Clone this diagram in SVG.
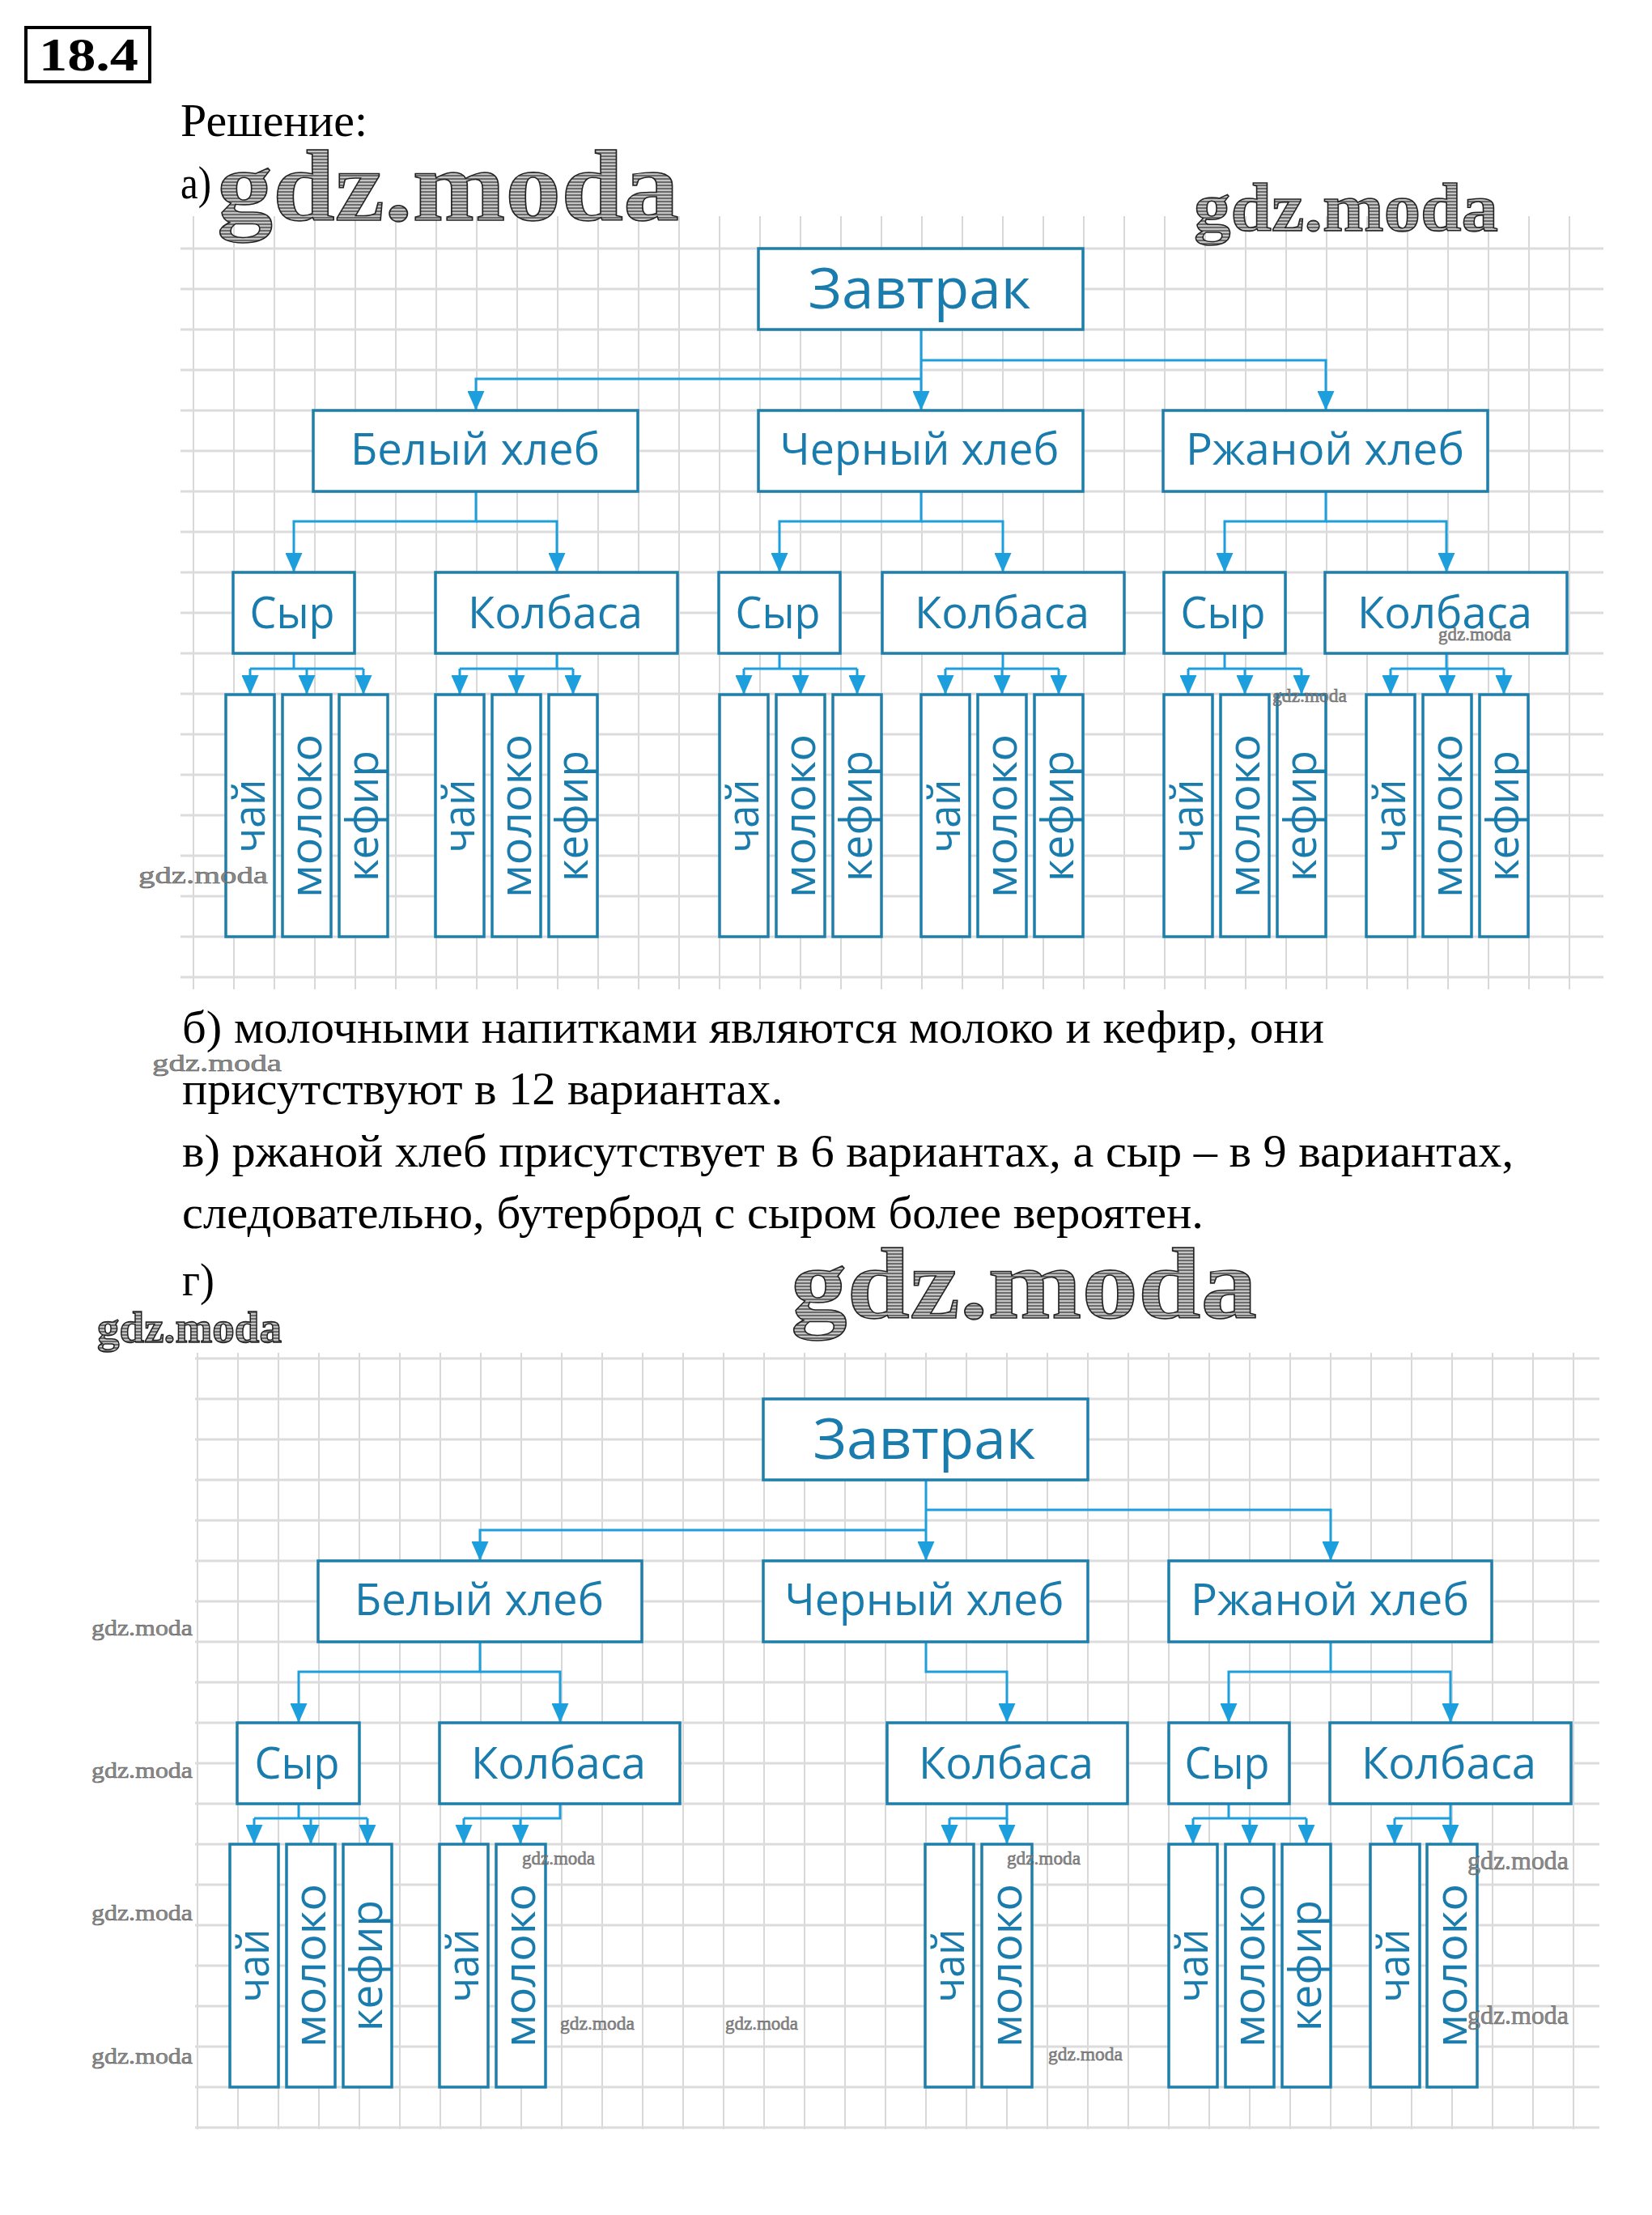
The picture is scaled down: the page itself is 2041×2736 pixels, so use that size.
<svg xmlns="http://www.w3.org/2000/svg" width="2041" height="2736" viewBox="0 0 2041 2736">
<style>
.gh{fill:none;stroke:#dcdcdc;stroke-width:3}
.gv{fill:none;stroke:#d8d8d8;stroke-width:2}
.box{fill:#fff;stroke:#1f7fab;stroke-width:3.5}
.t1{font-family:"Open Sans","Noto Sans",sans-serif;font-size:70px;fill:#1a7cad;text-anchor:middle}
.t2{font-family:"Open Sans","Noto Sans",sans-serif;font-size:55px;fill:#1a7cad;text-anchor:middle}
.tl{font-family:"Open Sans","Noto Sans",sans-serif;font-size:54px;fill:#1a7cad;text-anchor:middle}
.conn{fill:none;stroke:#1c9fdc;stroke-width:3}
.arr{fill:none;stroke:#1c9fdc;stroke-width:3;marker-end:url(#ah)}
.body{font-family:"Liberation Serif","Times New Roman",serif;font-size:57px;fill:#000}
.wm{font-family:"Liberation Serif",serif;font-weight:bold;fill:url(#hatch);stroke:#222;stroke-width:1.5}
.wms{font-family:"Liberation Serif",serif;fill:#8c8c8c;stroke:#555;stroke-width:0.5}
</style>
<defs>
<marker id="ah" viewBox="0 0 24 21" refX="24" refY="10.5" markerWidth="24" markerHeight="21" markerUnits="userSpaceOnUse" orient="auto">
<path d="M0,0 L24,10.5 L0,21 z" fill="#1c9fdc"/>
</marker>
<pattern id="hatch" width="4" height="4" patternUnits="userSpaceOnUse">
<rect width="4" height="4" fill="#c4c4c4"/>
<line x1="0" y1="1" x2="4" y2="1" stroke="#3a3a3a" stroke-width="1.3"/>
</pattern>
</defs>
<rect width="2041" height="2736" fill="#fff"/>

<!-- header texts -->
<g id="header">
<rect x="32" y="34" width="153" height="67" fill="none" stroke="#000" stroke-width="4"/>
<text x="48" y="87" font-family="Liberation Serif,serif" font-weight="bold" font-size="58" textLength="123" lengthAdjust="spacingAndGlyphs">18.4</text>
<text class="body" x="223" y="168" textLength="231" lengthAdjust="spacingAndGlyphs">Решение:</text>
<text class="body" x="223" y="245" textLength="38" lengthAdjust="spacingAndGlyphs">а)</text>
</g>

<!-- grid a -->
<g id="grid-a">
<path class="gv" d="M239,267V1222M289,267V1222M339,267V1222M389,267V1222M439,267V1222M489,267V1222M539,267V1222M589,267V1222M639,267V1222M689,267V1222M739,267V1222M789,267V1222M839,267V1222M889,267V1222M939,267V1222M989,267V1222M1039,267V1222M1089,267V1222M1139,267V1222M1189,267V1222M1239,267V1222M1289,267V1222M1339,267V1222M1389,267V1222M1439,267V1222M1489,267V1222M1539,267V1222M1589,267V1222M1639,267V1222M1689,267V1222M1739,267V1222M1789,267V1222M1839,267V1222M1889,267V1222M1939,267V1222"/>
<path class="gh" d="M223,307H1981M223,357H1981M223,407H1981M223,457H1981M223,507H1981M223,557H1981M223,607H1981M223,657H1981M223,707H1981M223,757H1981M223,807H1981M223,857H1981M223,907H1981M223,957H1981M223,1007H1981M223,1057H1981M223,1107H1981M223,1157H1981M223,1207H1981"/>
</g>

<!-- grid g -->
<g id="grid-g">
<path class="gv" d="M244,1671V2630M294,1671V2630M344,1671V2630M394,1671V2630M444,1671V2630M494,1671V2630M544,1671V2630M594,1671V2630M644,1671V2630M694,1671V2630M744,1671V2630M794,1671V2630M844,1671V2630M894,1671V2630M944,1671V2630M994,1671V2630M1044,1671V2630M1094,1671V2630M1144,1671V2630M1194,1671V2630M1244,1671V2630M1294,1671V2630M1344,1671V2630M1394,1671V2630M1444,1671V2630M1494,1671V2630M1544,1671V2630M1594,1671V2630M1644,1671V2630M1694,1671V2630M1744,1671V2630M1794,1671V2630M1844,1671V2630M1894,1671V2630M1944,1671V2630"/>
<path class="gh" d="M241,1678H1976M241,1728H1976M241,1778H1976M241,1828H1976M241,1878H1976M241,1928H1976M241,1978H1976M241,2028H1976M241,2078H1976M241,2128H1976M241,2178H1976M241,2228H1976M241,2278H1976M241,2328H1976M241,2378H1976M241,2428H1976M241,2478H1976M241,2528H1976M241,2578H1976M241,2628H1976"/>
</g>

<!-- connectors -->
<g id="connectors">
<!-- part a -->
<path class="arr" d="M1138,407V507"/>
<path class="arr" d="M1138,445H1638V507"/>
<path class="arr" d="M1138,468H588V507"/>
<path class="arr" d="M588,607V644H363V707"/>
<path class="arr" d="M588,644H688V707"/>
<path class="arr" d="M1138,607V644H963V707"/>
<path class="arr" d="M1138,644H1239V707"/>
<path class="arr" d="M1638,607V644H1513V707"/>
<path class="arr" d="M1638,644H1787V707"/>
<path class="conn" d="M363,807V826M309,826H449"/>
<path class="arr" d="M309,826V858"/><path class="arr" d="M379,826V858"/><path class="arr" d="M449,826V858"/>
<path class="conn" d="M688,807V826M568,826H708"/>
<path class="arr" d="M568,826V858"/><path class="arr" d="M638,826V858"/><path class="arr" d="M708,826V858"/>
<path class="conn" d="M963,807V826M919,826H1059"/>
<path class="arr" d="M919,826V858"/><path class="arr" d="M989,826V858"/><path class="arr" d="M1059,826V858"/>
<path class="conn" d="M1239,807V826M1168,826H1308"/>
<path class="arr" d="M1168,826V858"/><path class="arr" d="M1238,826V858"/><path class="arr" d="M1308,826V858"/>
<path class="conn" d="M1513,807V826M1468,826H1608"/>
<path class="arr" d="M1468,826V858"/><path class="arr" d="M1538,826V858"/><path class="arr" d="M1608,826V858"/>
<path class="conn" d="M1787,807V826M1718,826H1858"/>
<path class="arr" d="M1718,826V858"/><path class="arr" d="M1788,826V858"/><path class="arr" d="M1858,826V858"/>
<!-- part g -->
<path class="arr" d="M1144,1828V1928"/>
<path class="arr" d="M1144,1865H1644V1928"/>
<path class="arr" d="M1144,1890H593V1928"/>
<path class="arr" d="M593,2028V2065H369V2128"/>
<path class="arr" d="M593,2065H692V2128"/>
<path class="arr" d="M1144,2028V2065H1244V2128"/>
<path class="arr" d="M1644,2028V2065H1518V2128"/>
<path class="arr" d="M1644,2065H1792V2128"/>
<path class="conn" d="M369,2228V2246M314,2246H454"/>
<path class="arr" d="M314,2246V2278"/><path class="arr" d="M384,2246V2278"/><path class="arr" d="M454,2246V2278"/>
<path class="conn" d="M692,2228V2246H573"/>
<path class="arr" d="M573,2246V2278"/><path class="arr" d="M643,2246V2278"/>
<path class="conn" d="M1244,2228V2246H1173"/>
<path class="arr" d="M1173,2246V2278"/><path class="arr" d="M1244,2246V2278"/>
<path class="conn" d="M1518,2228V2246M1474,2246H1614"/>
<path class="arr" d="M1474,2246V2278"/><path class="arr" d="M1544,2246V2278"/><path class="arr" d="M1614,2246V2278"/>
<path class="conn" d="M1792,2228V2246H1723"/>
<path class="arr" d="M1723,2246V2278"/><path class="arr" d="M1792,2246V2278"/>
</g>

<!-- nodes part a -->
<g id="a-root"><rect class="box" x="937" y="307" width="401" height="100"/><text class="t1" x="1136" y="381" textLength="275" lengthAdjust="spacingAndGlyphs">Завтрак</text></g>
<g id="a-white"><rect class="box" x="387" y="507" width="401" height="100"/><text class="t2" x="587" y="574" textLength="308" lengthAdjust="spacingAndGlyphs">Белый хлеб</text></g>
<g id="a-black"><rect class="box" x="937" y="507" width="401" height="100"/><text class="t2" x="1136" y="574" textLength="345" lengthAdjust="spacingAndGlyphs">Черный хлеб</text></g>
<g id="a-rye"><rect class="box" x="1437" y="507" width="401" height="100"/><text class="t2" x="1637" y="574" textLength="344" lengthAdjust="spacingAndGlyphs">Ржаной хлеб</text></g>
<g id="a-white-cheese"><rect class="box" x="288" y="707" width="150" height="100"/><text class="t2" x="361" y="776" textLength="105" lengthAdjust="spacingAndGlyphs">Сыр</text></g>
<g id="a-white-sausage"><rect class="box" x="538" y="707" width="299" height="100"/><text class="t2" x="686" y="776" textLength="216" lengthAdjust="spacingAndGlyphs">Колбаса</text></g>
<g id="a-black-cheese"><rect class="box" x="888" y="707" width="150" height="100"/><text class="t2" x="961" y="776" textLength="105" lengthAdjust="spacingAndGlyphs">Сыр</text></g>
<g id="a-black-sausage"><rect class="box" x="1090" y="707" width="299" height="100"/><text class="t2" x="1238" y="776" textLength="216" lengthAdjust="spacingAndGlyphs">Колбаса</text></g>
<g id="a-rye-cheese"><rect class="box" x="1438" y="707" width="150" height="100"/><text class="t2" x="1511" y="776" textLength="105" lengthAdjust="spacingAndGlyphs">Сыр</text></g>
<g id="a-rye-sausage"><rect class="box" x="1637" y="707" width="299" height="100"/><text class="t2" x="1785" y="776" textLength="216" lengthAdjust="spacingAndGlyphs">Колбаса</text></g>

<!-- leaves part a -->
<g id="a-l1"><rect class="box" x="279" y="858" width="60" height="299"/><text class="tl" transform="translate(327,1008) rotate(-90)" textLength="91" lengthAdjust="spacingAndGlyphs">чай</text></g>
<g id="a-l2"><rect class="box" x="349" y="858" width="60" height="299"/><text class="tl" transform="translate(397,1008) rotate(-90)" textLength="202" lengthAdjust="spacingAndGlyphs">молоко</text></g>
<g id="a-l3"><rect class="box" x="419" y="858" width="60" height="299"/><text class="tl" transform="translate(467,1008) rotate(-90)" textLength="162" lengthAdjust="spacingAndGlyphs">кефир</text></g>
<g id="a-l4"><rect class="box" x="538" y="858" width="60" height="299"/><text class="tl" transform="translate(586,1008) rotate(-90)" textLength="91" lengthAdjust="spacingAndGlyphs">чай</text></g>
<g id="a-l5"><rect class="box" x="608" y="858" width="60" height="299"/><text class="tl" transform="translate(656,1008) rotate(-90)" textLength="202" lengthAdjust="spacingAndGlyphs">молоко</text></g>
<g id="a-l6"><rect class="box" x="678" y="858" width="60" height="299"/><text class="tl" transform="translate(726,1008) rotate(-90)" textLength="162" lengthAdjust="spacingAndGlyphs">кефир</text></g>
<g id="a-l7"><rect class="box" x="889" y="858" width="60" height="299"/><text class="tl" transform="translate(937,1008) rotate(-90)" textLength="91" lengthAdjust="spacingAndGlyphs">чай</text></g>
<g id="a-l8"><rect class="box" x="959" y="858" width="60" height="299"/><text class="tl" transform="translate(1007,1008) rotate(-90)" textLength="202" lengthAdjust="spacingAndGlyphs">молоко</text></g>
<g id="a-l9"><rect class="box" x="1029" y="858" width="60" height="299"/><text class="tl" transform="translate(1077,1008) rotate(-90)" textLength="162" lengthAdjust="spacingAndGlyphs">кефир</text></g>
<g id="a-l10"><rect class="box" x="1138" y="858" width="60" height="299"/><text class="tl" transform="translate(1186,1008) rotate(-90)" textLength="91" lengthAdjust="spacingAndGlyphs">чай</text></g>
<g id="a-l11"><rect class="box" x="1208" y="858" width="60" height="299"/><text class="tl" transform="translate(1256,1008) rotate(-90)" textLength="202" lengthAdjust="spacingAndGlyphs">молоко</text></g>
<g id="a-l12"><rect class="box" x="1278" y="858" width="60" height="299"/><text class="tl" transform="translate(1326,1008) rotate(-90)" textLength="162" lengthAdjust="spacingAndGlyphs">кефир</text></g>
<g id="a-l13"><rect class="box" x="1438" y="858" width="60" height="299"/><text class="tl" transform="translate(1486,1008) rotate(-90)" textLength="91" lengthAdjust="spacingAndGlyphs">чай</text></g>
<g id="a-l14"><rect class="box" x="1508" y="858" width="60" height="299"/><text class="tl" transform="translate(1556,1008) rotate(-90)" textLength="202" lengthAdjust="spacingAndGlyphs">молоко</text></g>
<g id="a-l15"><rect class="box" x="1578" y="858" width="60" height="299"/><text class="tl" transform="translate(1626,1008) rotate(-90)" textLength="162" lengthAdjust="spacingAndGlyphs">кефир</text></g>
<g id="a-l16"><rect class="box" x="1688" y="858" width="60" height="299"/><text class="tl" transform="translate(1736,1008) rotate(-90)" textLength="91" lengthAdjust="spacingAndGlyphs">чай</text></g>
<g id="a-l17"><rect class="box" x="1758" y="858" width="60" height="299"/><text class="tl" transform="translate(1806,1008) rotate(-90)" textLength="202" lengthAdjust="spacingAndGlyphs">молоко</text></g>
<g id="a-l18"><rect class="box" x="1828" y="858" width="60" height="299"/><text class="tl" transform="translate(1876,1008) rotate(-90)" textLength="162" lengthAdjust="spacingAndGlyphs">кефир</text></g>

<!-- body text -->
<g id="answers">
<text class="body" x="225" y="1288" textLength="1411" lengthAdjust="spacingAndGlyphs">б) молочными напитками являются молоко и кефир, они</text>
<text class="body" x="225" y="1364" textLength="742" lengthAdjust="spacingAndGlyphs">присутствуют в 12 вариантах.</text>
<text class="body" x="225" y="1441" textLength="1645" lengthAdjust="spacingAndGlyphs">в) ржаной хлеб присутствует в 6 вариантах, а сыр – в 9 вариантах,</text>
<text class="body" x="225" y="1517" textLength="1262" lengthAdjust="spacingAndGlyphs">следовательно, бутерброд с сыром более вероятен.</text>
<text class="body" x="225" y="1600" textLength="40" lengthAdjust="spacingAndGlyphs">г)</text>
</g>

<!-- nodes part g -->
<g id="g-root"><rect class="box" x="943" y="1728" width="401" height="100"/><text class="t1" x="1142" y="1802" textLength="275" lengthAdjust="spacingAndGlyphs">Завтрак</text></g>
<g id="g-white"><rect class="box" x="393" y="1928" width="400" height="100"/><text class="t2" x="592" y="1995" textLength="308" lengthAdjust="spacingAndGlyphs">Белый хлеб</text></g>
<g id="g-black"><rect class="box" x="943" y="1928" width="401" height="100"/><text class="t2" x="1142" y="1995" textLength="345" lengthAdjust="spacingAndGlyphs">Черный хлеб</text></g>
<g id="g-rye"><rect class="box" x="1444" y="1928" width="399" height="100"/><text class="t2" x="1643" y="1995" textLength="344" lengthAdjust="spacingAndGlyphs">Ржаной хлеб</text></g>
<g id="g-white-cheese"><rect class="box" x="293" y="2128" width="151" height="100"/><text class="t2" x="367" y="2197" textLength="105" lengthAdjust="spacingAndGlyphs">Сыр</text></g>
<g id="g-white-sausage"><rect class="box" x="543" y="2128" width="297" height="100"/><text class="t2" x="690" y="2197" textLength="216" lengthAdjust="spacingAndGlyphs">Колбаса</text></g>
<g id="g-black-sausage"><rect class="box" x="1096" y="2128" width="297" height="100"/><text class="t2" x="1243" y="2197" textLength="216" lengthAdjust="spacingAndGlyphs">Колбаса</text></g>
<g id="g-rye-cheese"><rect class="box" x="1444" y="2128" width="149" height="100"/><text class="t2" x="1516" y="2197" textLength="105" lengthAdjust="spacingAndGlyphs">Сыр</text></g>
<g id="g-rye-sausage"><rect class="box" x="1643" y="2128" width="298" height="100"/><text class="t2" x="1790" y="2197" textLength="216" lengthAdjust="spacingAndGlyphs">Колбаса</text></g>

<!-- leaves part g -->
<g id="g-l1"><rect class="box" x="284" y="2278" width="60" height="300"/><text class="tl" transform="translate(332,2428) rotate(-90)" textLength="91" lengthAdjust="spacingAndGlyphs">чай</text></g>
<g id="g-l2"><rect class="box" x="354" y="2278" width="60" height="300"/><text class="tl" transform="translate(402,2428) rotate(-90)" textLength="202" lengthAdjust="spacingAndGlyphs">молоко</text></g>
<g id="g-l3"><rect class="box" x="424" y="2278" width="60" height="300"/><text class="tl" transform="translate(472,2428) rotate(-90)" textLength="162" lengthAdjust="spacingAndGlyphs">кефир</text></g>
<g id="g-l4"><rect class="box" x="543" y="2278" width="60" height="300"/><text class="tl" transform="translate(591,2428) rotate(-90)" textLength="91" lengthAdjust="spacingAndGlyphs">чай</text></g>
<g id="g-l5"><rect class="box" x="613" y="2278" width="61" height="300"/><text class="tl" transform="translate(661,2428) rotate(-90)" textLength="202" lengthAdjust="spacingAndGlyphs">молоко</text></g>
<g id="g-l6"><rect class="box" x="1143" y="2278" width="60" height="300"/><text class="tl" transform="translate(1191,2428) rotate(-90)" textLength="91" lengthAdjust="spacingAndGlyphs">чай</text></g>
<g id="g-l7"><rect class="box" x="1213" y="2278" width="62" height="300"/><text class="tl" transform="translate(1262,2428) rotate(-90)" textLength="202" lengthAdjust="spacingAndGlyphs">молоко</text></g>
<g id="g-l8"><rect class="box" x="1444" y="2278" width="60" height="300"/><text class="tl" transform="translate(1492,2428) rotate(-90)" textLength="91" lengthAdjust="spacingAndGlyphs">чай</text></g>
<g id="g-l9"><rect class="box" x="1514" y="2278" width="60" height="300"/><text class="tl" transform="translate(1562,2428) rotate(-90)" textLength="202" lengthAdjust="spacingAndGlyphs">молоко</text></g>
<g id="g-l10"><rect class="box" x="1584" y="2278" width="60" height="300"/><text class="tl" transform="translate(1632,2428) rotate(-90)" textLength="162" lengthAdjust="spacingAndGlyphs">кефир</text></g>
<g id="g-l11"><rect class="box" x="1693" y="2278" width="61" height="300"/><text class="tl" transform="translate(1741,2428) rotate(-90)" textLength="91" lengthAdjust="spacingAndGlyphs">чай</text></g>
<g id="g-l12"><rect class="box" x="1763" y="2278" width="62" height="300"/><text class="tl" transform="translate(1812,2428) rotate(-90)" textLength="202" lengthAdjust="spacingAndGlyphs">молоко</text></g>

<!-- watermarks -->
<g id="watermarks">
<text class="wm" x="268" y="272" font-size="125" textLength="571" lengthAdjust="spacingAndGlyphs">gdz.moda</text>
<text class="wm" x="1475" y="285" font-size="85" textLength="376" lengthAdjust="spacingAndGlyphs">gdz.moda</text>
<text class="wm" x="977" y="1628" font-size="125" textLength="576" lengthAdjust="spacingAndGlyphs">gdz.moda</text>
<text class="wm" x="120" y="1658" font-size="55" textLength="228" lengthAdjust="spacingAndGlyphs">gdz.moda</text>
<text class="wms" x="171" y="1091" font-size="30" textLength="160" lengthAdjust="spacingAndGlyphs">gdz.moda</text>
<text class="wms" x="1777" y="791" font-size="24" textLength="90" lengthAdjust="spacingAndGlyphs">gdz.moda</text>
<text class="wms" x="1572" y="867" font-size="24" textLength="92" lengthAdjust="spacingAndGlyphs">gdz.moda</text>
<text class="wms" x="188" y="1323" font-size="30" textLength="160" lengthAdjust="spacingAndGlyphs">gdz.moda</text>
<text class="wms" x="113" y="2020" font-size="28" textLength="125" lengthAdjust="spacingAndGlyphs">gdz.moda</text>
<text class="wms" x="113" y="2196" font-size="28" textLength="125" lengthAdjust="spacingAndGlyphs">gdz.moda</text>
<text class="wms" x="113" y="2372" font-size="28" textLength="125" lengthAdjust="spacingAndGlyphs">gdz.moda</text>
<text class="wms" x="113" y="2549" font-size="28" textLength="125" lengthAdjust="spacingAndGlyphs">gdz.moda</text>
<text class="wms" x="645" y="2303" font-size="24" textLength="90" lengthAdjust="spacingAndGlyphs">gdz.moda</text>
<text class="wms" x="692" y="2507" font-size="24" textLength="92" lengthAdjust="spacingAndGlyphs">gdz.moda</text>
<text class="wms" x="896" y="2507" font-size="24" textLength="90" lengthAdjust="spacingAndGlyphs">gdz.moda</text>
<text class="wms" x="1244" y="2303" font-size="24" textLength="91" lengthAdjust="spacingAndGlyphs">gdz.moda</text>
<text class="wms" x="1295" y="2545" font-size="24" textLength="92" lengthAdjust="spacingAndGlyphs">gdz.moda</text>
<text class="wms" x="1813" y="2309" font-size="32" textLength="125" lengthAdjust="spacingAndGlyphs">gdz.moda</text>
<text class="wms" x="1813" y="2500" font-size="32" textLength="125" lengthAdjust="spacingAndGlyphs">gdz.moda</text>
</g>
</svg>
